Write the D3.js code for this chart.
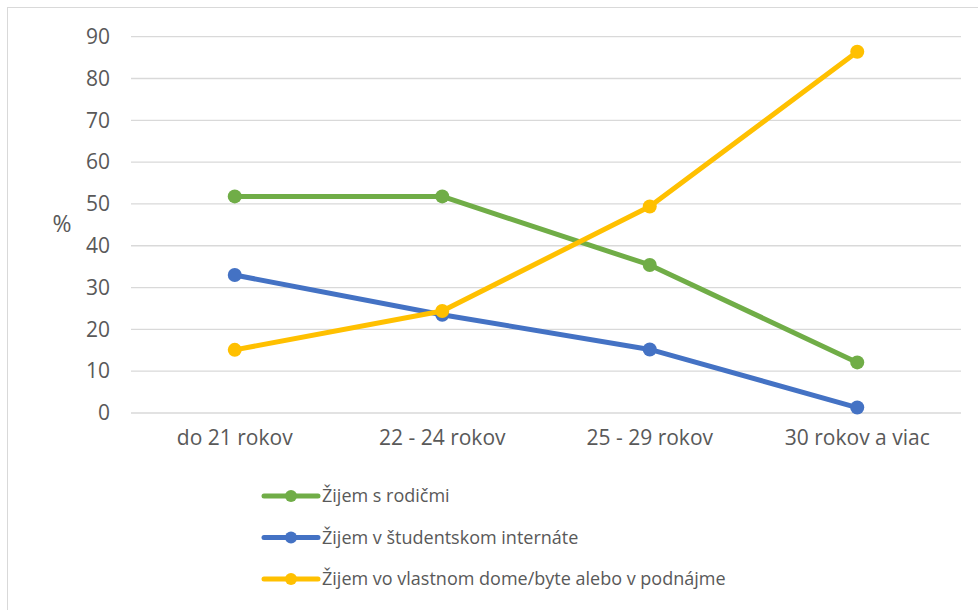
<!DOCTYPE html>
<html lang="sk">
<head>
  <meta charset="UTF-8">
  <title>Bývanie podľa veku</title>
  <script src="https://d3js.org/d3.v7.min.js"></script>
  <style>
    body { margin: 0; background: #fff; }
    svg { font-family: "Open Sans", sans-serif; display: block; }
    .grid line { stroke: #d9d9d9; stroke-width: 1.3px; }
    .axis text { fill: #595959; }
    .axis path, .axis line { display: none; }
  </style>
</head>
<body>
<svg width="978" height="610"></svg>
<script>
const categories = ["do 21 rokov", "22 - 24 rokov", "25 - 29 rokov", "30 rokov a viac"];
const yTicks = [0, 10, 20, 30, 40, 50, 60, 70, 80, 90];

const rodicmi = [51.8, 51.8, 35.4, 12.1];
const internat = [33.0, 23.5, 15.2, 1.3];
const vlastne = [15.1, 24.4, 49.4, 86.4];

const series = [
  { name: "Žijem s rodičmi", values: rodicmi, color: "#70ad47" },
  { name: "Žijem v študentskom internáte", values: internat, color: "#4472c4" },
  { name: "Žijem vo vlastnom dome/byte alebo v podnájme", values: vlastne, color: "#ffc000" }
];

const svg = d3.select("svg");

// chart frame
svg.append("rect")
  .attr("x", 7.5).attr("y", 7.5)
  .attr("width", 990).attr("height", 620)
  .attr("fill", "none")
  .attr("stroke", "#d9d9d9");

const x = d3.scaleBand().domain(categories).range([131, 961]);
const y = d3.scaleLinear().domain([0, 90]).range([413, 36.7]);

// gridlines
svg.append("g").attr("class", "grid")
  .selectAll("line").data(yTicks).enter().append("line")
  .attr("x1", 131).attr("x2", 961)
  .attr("y1", d => y(d)).attr("y2", d => y(d));

// y axis labels
svg.append("g").attr("class", "axis")
  .attr("transform", "translate(119,0)")
  .call(d3.axisLeft(y).tickValues(yTicks).tickSize(0).tickPadding(9))
  .selectAll("text").attr("font-size", "21px").attr("font-family", "Open Sans, sans-serif");

svg.append("text")
  .attr("x", 62).attr("y", 226)
  .attr("text-anchor", "middle").attr("dominant-baseline", "middle")
  .attr("fill", "#595959").attr("font-size", "23px")
  .text("%");

// x axis labels
svg.append("g").attr("class", "axis")
  .attr("transform", "translate(0,413)")
  .call(d3.axisBottom(x).tickSize(0).tickPadding(17))
  .selectAll("text").attr("font-size", "21px").attr("font-family", "Open Sans, sans-serif");

const line = d3.line()
  .x((d, i) => x(categories[i]) + x.bandwidth() / 2)
  .y(d => y(d));

series.forEach(s => {
  const g = svg.append("g");
  g.append("path")
    .attr("d", line(s.values))
    .attr("fill", "none")
    .attr("stroke", s.color)
    .attr("stroke-width", 5)
    .attr("stroke-linejoin", "round");
  g.selectAll("circle").data(s.values).enter().append("circle")
    .attr("cx", (d, i) => x(categories[i]) + x.bandwidth() / 2)
    .attr("cy", d => y(d))
    .attr("r", 7)
    .attr("fill", s.color);
});

// legend
const legend = svg.append("g").attr("transform", "translate(264,496)");
series.forEach((s, i) => {
  const row = legend.append("g").attr("transform", `translate(0,${i * 41.5})`);
  row.append("line")
    .attr("x1", 0).attr("x2", 54)
    .attr("stroke", s.color).attr("stroke-width", 5)
    .attr("stroke-linecap", "round");
  row.append("circle").attr("cx", 27).attr("r", 6).attr("fill", s.color);
  row.append("text")
    .attr("x", 58).attr("dy", "0.35em")
    .attr("fill", "#595959").attr("font-size", "18px")
    .text(s.name);
});
</script>
</body>
</html>
